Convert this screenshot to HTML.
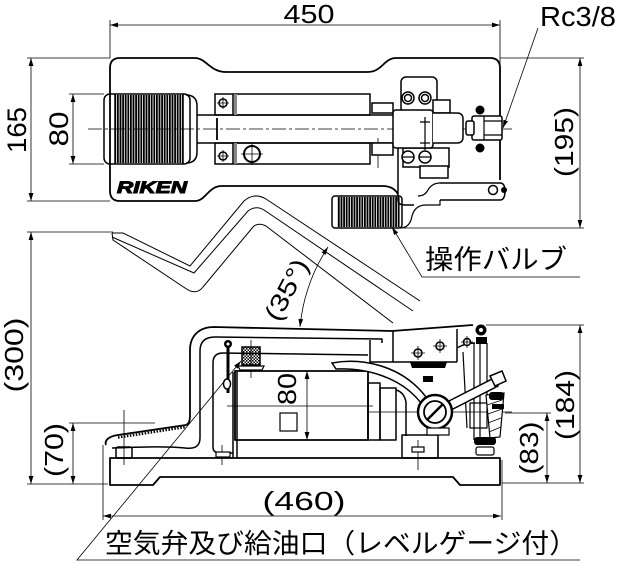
<!DOCTYPE html>
<html><head><meta charset="utf-8"><style>
html,body{margin:0;padding:0;background:#fff;}
svg{display:block;}
text{font-family:"Liberation Sans","Noto Sans CJK JP",sans-serif;fill:#000;}
</style></head><body>
<svg width="618" height="563" viewBox="0 0 618 563" xmlns="http://www.w3.org/2000/svg">
<defs>
<marker id="ar" viewBox="0 0 10 6" refX="10" refY="3" markerWidth="8" markerHeight="4.8" markerUnits="userSpaceOnUse" orient="auto-start-reverse"><path d="M0,0 L10,3 L0,6 z" fill="#000"/></marker>
<pattern id="vh" width="2.6" height="20" patternUnits="userSpaceOnUse"><rect width="1.8" height="20" fill="#000"/></pattern>
<pattern id="ck" width="3" height="3" patternUnits="userSpaceOnUse"><rect width="1.5" height="1.5" fill="#000"/><rect x="1.5" y="1.5" width="1.5" height="1.5" fill="#000"/></pattern>
</defs>
<rect width="618" height="563" fill="#fff"/>

<!-- ================= DIMENSIONS ================= -->
<g fill="none" stroke="#000" stroke-width="0.8">
  <path d="M110,25 L500,25" marker-start="url(#ar)" marker-end="url(#ar)"/>
  <path d="M110,20 L110,58 M500,20 L500,70"/>
  <path d="M31,58 L31,201" marker-start="url(#ar)" marker-end="url(#ar)"/>
  <path d="M27,58 L110,58 M27,201 L110,201"/>
  <path d="M73,94 L73,164" marker-start="url(#ar)" marker-end="url(#ar)"/>
  <path d="M69,94 L104,94 M69,164 L104,164"/>
  <path d="M580,58 L580,228" marker-start="url(#ar)" marker-end="url(#ar)"/>
  <path d="M500,58 L584,58 M402,228 L584,228"/>
  <path d="M31,232 L31,484" marker-start="url(#ar)" marker-end="url(#ar)"/>
  <path d="M27,232 L113,232 M27,484 L108,484"/>
  <path d="M73,423 L73,484" marker-start="url(#ar)" marker-end="url(#ar)"/>
  <path d="M69,423 L155,423"/>
  <path d="M103,516 L501,516" marker-start="url(#ar)" marker-end="url(#ar)"/>
  <path d="M103,445 L103,520 M502,460 L502,520"/>
  <path d="M547,413 L547,483" marker-start="url(#ar)" marker-end="url(#ar)"/>
  <path d="M505,413 L551,413 M502,483 L584,483"/>
  <path d="M580,325 L580,483" marker-start="url(#ar)" marker-end="url(#ar)"/>
  <path d="M486,325 L584,325"/>
  <path d="M307,371 L307,440" marker-start="url(#ar)" marker-end="url(#ar)"/>
  <path d="M300,327 A178,178 0 0 1 328,247" marker-start="url(#ar)" marker-end="url(#ar)"/>
  <path d="M538,28 L503,128" marker-end="url(#ar)"/>
  <path d="M580,277 L422,277 L392,227" marker-end="url(#ar)"/>
  <path d="M580,560 L77,560 L241,361" marker-end="url(#ar)"/>
  <path d="M88,129 L512,129" stroke-dasharray="14 3 3 3"/>
  <path d="M227,406 L373,406 M367,412 L512,412"/>
</g>

<!-- ================= TEXT ================= -->
<text x="309" y="23" font-size="26" text-anchor="middle" textLength="51" lengthAdjust="spacingAndGlyphs">450</text>
<text x="578" y="26" font-size="28" text-anchor="middle" textLength="76" lengthAdjust="spacingAndGlyphs">Rc3/8</text>
<text transform="translate(17,130) rotate(-90)" font-size="27" text-anchor="middle" dominant-baseline="central" textLength="46" lengthAdjust="spacingAndGlyphs">165</text>
<text transform="translate(59,129) rotate(-90)" font-size="27" text-anchor="middle" dominant-baseline="central" textLength="35" lengthAdjust="spacingAndGlyphs">80</text>
<text transform="translate(564,142) rotate(-90)" font-size="26" text-anchor="middle" dominant-baseline="central" textLength="70" lengthAdjust="spacingAndGlyphs">(195)</text>
<text x="425" y="269" font-size="27" textLength="142" lengthAdjust="spacingAndGlyphs">操作バルブ</text>
<text transform="translate(287,290) rotate(-62)" font-size="25" text-anchor="middle" dominant-baseline="central" textLength="66" lengthAdjust="spacingAndGlyphs">(35°)</text>
<text transform="translate(14,355) rotate(-90)" font-size="26" text-anchor="middle" dominant-baseline="central" textLength="75" lengthAdjust="spacingAndGlyphs">(300)</text>
<text transform="translate(54,450) rotate(-90)" font-size="26" text-anchor="middle" dominant-baseline="central" textLength="54" lengthAdjust="spacingAndGlyphs">(70)</text>
<text transform="translate(287,389) rotate(-90)" font-size="26" text-anchor="middle" dominant-baseline="central" textLength="32" lengthAdjust="spacingAndGlyphs">80</text>
<text transform="translate(529,448) rotate(-90)" font-size="26" text-anchor="middle" dominant-baseline="central" textLength="53" lengthAdjust="spacingAndGlyphs">(83)</text>
<text transform="translate(565,405) rotate(-90)" font-size="26" text-anchor="middle" dominant-baseline="central" textLength="70" lengthAdjust="spacingAndGlyphs">(184)</text>
<text x="304" y="510" font-size="26" text-anchor="middle" textLength="83" lengthAdjust="spacingAndGlyphs">(460)</text>
<text x="105" y="553" font-size="27" textLength="472" lengthAdjust="spacingAndGlyphs">空気弁及び給油口（レベルゲージ付）</text>

<!-- ================= TOP VIEW ================= -->
<g fill="none" stroke="#000" stroke-width="1.8" stroke-linejoin="round">
  <path d="M120,58 L195,58 C206,58 210,72 226,72 L368,72 C382,72 384,58 396,58 L490,58 Q500,58 500,68 L500,180"/>
  <path d="M120,58 Q110,58 110,68 L110,191 Q110,201 120,201 L195,201 C206,201 208,186 222,186 L382,186 C392,186 396,190 399,196"/>
</g>
<rect x="115" y="95" width="68" height="68" fill="url(#vh)"/>
<g fill="none" stroke="#000" stroke-width="1.5">
  <rect x="104" y="94" width="86" height="70" rx="6"/>
  <path d="M115,94 L115,164 M183,94 L183,164"/>
  <path d="M186,95 Q197,95 197,106 L197,152 Q197,163 186,163"/>
  <path d="M197,115 L393,115 M197,143 L393,143"/>
  <path d="M217,118 L217,140" stroke-width="1.8"/>
  <rect x="215" y="94" width="155" height="21"/>
  <rect x="215" y="143" width="155" height="21"/>
  <path d="M233,94 L233,115 M233,143 L233,164"/>
  <circle cx="223" cy="103" r="4"/>
  <circle cx="223" cy="156" r="4"/>
  <circle cx="252" cy="154" r="8" stroke-width="2"/>
</g>
<rect x="234" y="94" width="3" height="21" fill="#888"/>
<rect x="234" y="143" width="3" height="21" fill="#888"/>
<g stroke="#000" stroke-width="0.8">
  <path d="M217,103 L229,103 M223,97 L223,109 M217,156 L229,156 M223,150 L223,162 M241,154 L263,154 M252,143 L252,165"/>
  <path d="M378,138 L378,168"/>
</g>
<g fill="#fff" stroke="#000" stroke-width="1.5">
  <rect x="372" y="103" width="21" height="10"/>
  <rect x="372" y="143" width="21" height="12"/>
  <rect x="401" y="77" width="36" height="36" rx="5"/>
  <circle cx="408" cy="98" r="6"/><circle cx="408" cy="98" r="3.5"/>
  <circle cx="425" cy="98" r="6"/><circle cx="425" cy="98" r="3.5"/>
  <rect x="433" y="100" width="17" height="13"/>
  <path d="M398,148 L398,200 Q398,205 405,205 L414,205"/>
  <rect x="403" y="148" width="46" height="19"/>
  <rect x="420" y="166" width="28" height="12"/>
  <rect x="393" y="110" width="40" height="38" rx="3"/>
  <path d="M433,113 L457,113 Q463,113 463,119 L463,137 Q463,143 457,143 L433,143"/>
  <circle cx="408" cy="157" r="6"/>
  <circle cx="425" cy="157" r="6"/>
  <rect x="472" y="116" width="30" height="24" rx="2"/>
  <rect x="466" y="121" width="8" height="14" rx="2"/>
  <path d="M440,183 L500,183 Q505,183 505,191 Q505,200 500,200 L440,200"/>
  <circle cx="493" cy="190" r="4.5"/>
</g>
<g fill="none" stroke="#000" stroke-width="1.2">
  <path d="M402,157 L414,157 M419,157 L431,157"/>
  <path d="M484,121 L502,121 M484,135 L502,135 M484,116 L484,140"/>
  <path d="M440,183 Q432,183 428,190 Q425,196 418,196 M400,228 Q410,228 412,216 Q415,205 426,205 L440,205 L440,200"/>
  <path d="M425,117 L425,150 M420,122 L430,122 M420,143 L430,143"/>
</g>
<circle cx="480" cy="110" r="4.5" fill="#000"/>
<circle cx="480" cy="148" r="4.5" fill="#000"/>
<circle cx="504" cy="190" r="3" fill="#000"/>
<rect x="337" y="197" width="63" height="30" fill="url(#vh)"/>
<rect x="332" y="196" width="70" height="32" rx="3" fill="none" stroke="#000" stroke-width="1.5"/>
<text x="117" y="193" font-size="17" font-weight="bold" font-style="italic" fill="#fff" stroke="#000" stroke-width="1" textLength="70" lengthAdjust="spacingAndGlyphs">RIKEN</text>

<!-- ================= 35 deg PEDAL OUTLINE ================= -->
<g fill="none" stroke="#000" stroke-width="1">
  <path d="M112,233 L123,233 L190,266 L244,201 Q254,192 266,199 L420,301"/>
  <path d="M112,237 L194,273 L248,211 Q256,205 264,210 L413,311"/>
  <path d="M112,233 L113,240 L185,288 Q196,296 203,287 L253,227 Q258,222 266,226 L393,323"/>
</g>

<!-- ================= SIDE VIEW ================= -->
<g fill="none" stroke="#000" stroke-width="1.8" stroke-linejoin="round">
  <path d="M110,458 L500,458 L500,485 L460,485 L453,477 L160,477 L153,485 L110,485 Z"/>
  <path d="M106,445 C104,440 110,436 118,435 L186,425 C189,424 190,421 190,416 L190,350 C190,336 199,327 214,327 L392,331 L473,325"/>
  <path d="M112,448 C140,447 165,446 185,448 Q200,450 200,438 L200,351 Q200,337 215,337 L382,339 L382,343" stroke-width="1.5"/>
  <path d="M213,447 L213,363 Q213,353 223,353 L368,355 M213,447 Q213,453 220,453 L233,453" stroke-width="1.5"/>
  <rect x="235" y="371" width="133" height="69"/>
  <path d="M233,372 L233,458 M237,372 L237,458" stroke-width="1.5"/>
  <rect x="368" y="383" width="12" height="57" stroke-width="1.5"/>
  <rect x="380" y="388" width="16" height="52" stroke-width="1.5"/>
  <path d="M396,390 Q404,392 406,402 L406,436" stroke-width="1.5"/>
  <rect x="402" y="435" width="36" height="23" stroke-width="1.5"/>
  <path d="M370,340 L370,362 L457,362 M393,331 L393,362 M457,329 L457,362 M457,348 Q465,343 475,343" stroke-width="1.5"/>
  <path d="M463,352 L467,428 M438,440 L438,458" stroke-width="1.2"/>
  <rect x="116" y="447" width="16" height="11" rx="2" stroke-width="1.5"/>
  <rect x="470" y="403" width="17" height="25" stroke-width="1.2"/>
</g>
<path d="M118,437.5 L186,427" stroke="#000" stroke-width="2.5" stroke-dasharray="1.5 1.5" fill="none"/>
<g stroke="#000" stroke-width="0.8" fill="none">
  <path d="M124,410 L124,465 M251,340 L251,378 M222,445 L222,465 M418,440 L418,470"/>
</g>
<rect x="242" y="347" width="18" height="18" fill="url(#ck)" stroke="#000" stroke-width="1.5"/>
<path d="M238,366 L264,366 L262,370 L240,370 Z" fill="#fff" stroke="#000" stroke-width="1.2"/>
<path d="M228,343 L228,393" stroke="#000" stroke-width="3"/>
<circle cx="228" cy="344" r="4" fill="#000"/>
<circle cx="228" cy="344" r="1.5" fill="#fff"/>
<ellipse cx="227" cy="384" rx="3.5" ry="5" fill="#fff" stroke="#000" stroke-width="1.5"/>
<rect x="216" y="452" width="14" height="5" fill="#fff" stroke="#000" stroke-width="1.2"/>
<rect x="412" y="447" width="12" height="5" fill="#fff" stroke="#000" stroke-width="1.2"/>
<g stroke="#000" stroke-width="1.2" fill="none">
  <path d="M474,343 L474,440 M480,343 L480,440 M487,343 L487,395"/>
</g>
<g fill="#fff" stroke="#000" stroke-width="1.5">
  <circle cx="418" cy="353" r="4"/>
  <circle cx="440" cy="346" r="4"/>
  <circle cx="467" cy="342" r="3.5"/>
</g>
<g stroke="#000" stroke-width="0.8">
  <path d="M411,353 L425,353 M418,346 L418,360 M433,346 L447,346 M440,339 L440,353 M461,342 L473,342 M467,336 L467,348"/>
</g>
<path d="M410,362 L447,362 L445,368 L412,368 Z" fill="#000"/>
<circle cx="481" cy="330" r="5.5" fill="#000"/>
<circle cx="481" cy="330" r="2" fill="#fff"/>
<rect x="476" y="337" width="11" height="7" fill="#000"/>
<path d="M332,363 C358,358 400,363 426,397 L421,403 C400,376 365,368 336,369 Z" fill="#fff" stroke="#000" stroke-width="1.5"/>
<path d="M447,402 L494,378 L498,386 L451,410 Z" fill="#fff" stroke="#000" stroke-width="1.5"/>
<path d="M490,376 L502,371 L506,381 L495,386 Z" fill="#fff" stroke="#000" stroke-width="1.5"/>
<rect x="423" y="376" width="10" height="6" fill="#000"/>
<circle cx="435" cy="412" r="17" fill="#fff" stroke="#000" stroke-width="2.5"/>
<circle cx="435" cy="412" r="11" fill="#fff" stroke="#000" stroke-width="1.8"/>
<path d="M427,420 L443,404" stroke="#000" stroke-width="2.5"/>
<rect x="427" y="428" width="22" height="7" fill="#fff" stroke="#000" stroke-width="1.2"/>
<path d="M486,395 L504,393 L500,437 L490,438 Z" fill="#fff" stroke="#000" stroke-width="1.2"/>
<path d="M487,405 L502,400 M488,414 L502,409 M488,423 L501,418 M489,432 L501,427" stroke="#000" stroke-width="0.8"/>
<rect x="489" y="392" width="15" height="8" rx="3" fill="#000"/>
<rect x="492" y="404" width="12" height="5" fill="#000"/>
<rect x="474" y="437" width="22" height="8" rx="3" fill="#000"/>
<rect x="476" y="447" width="18" height="8" rx="2" fill="#fff" stroke="#000" stroke-width="1.2"/>
<rect x="280" y="413" width="17" height="18" fill="none" stroke="#000" stroke-width="1.2"/>
</svg>
</body></html>
